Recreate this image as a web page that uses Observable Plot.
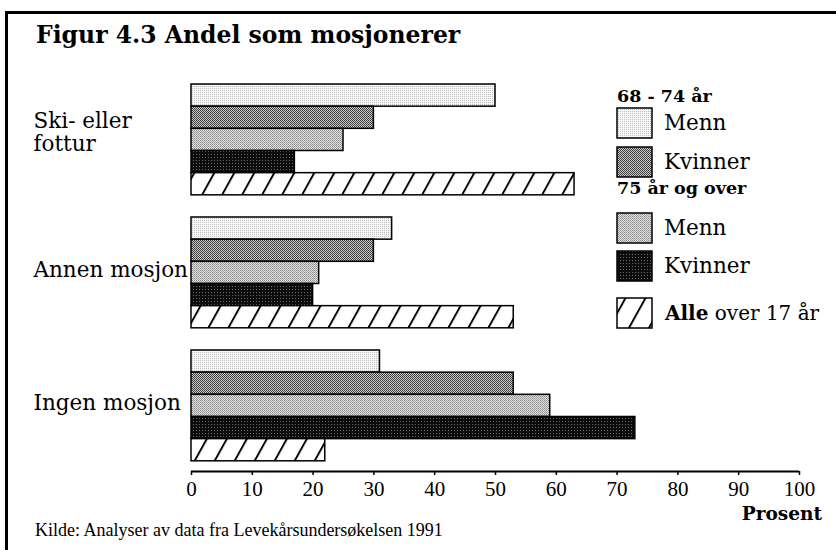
<!DOCTYPE html>
<html>
<head>
<meta charset="utf-8">
<script src="https://cdn.jsdelivr.net/npm/d3@7"></script>
<script src="https://cdn.jsdelivr.net/npm/@observablehq/plot@0.6"></script>
<style>
  html, body { margin: 0; padding: 0; background: #fff; }
  #wrap { position: relative; width: 836px; height: 550px; overflow: hidden; background: #fff; font-family: "DejaVu Serif", serif; color: #000; }
  #frame { position: absolute; left: 5px; top: 11px; right: -10px; bottom: -10px; border-top: 3px solid #000; border-left: 3px solid #000; }
  #title { position: absolute; left: 36px; top: 22px; font: bold 23.5px/1.164 "DejaVu Serif", serif; white-space: nowrap; }
  #chart { position: absolute; left: 0; top: 0; }
  .lg { position: absolute; white-space: nowrap; }
  .lg-head { font: bold 17.5px/1 "DejaVu Serif", serif; left: 617px; }
  .lg-item { left: 616px; display: flex; align-items: center; }
  .lg-item svg { display: block; }
  .lg-item span { font: 21.5px/1 "DejaVu Serif", serif; margin-left: 11px; }
  .lg-item span.small { font-size: 20px; margin-left: 12px; }
  #prosent { position: absolute; right: 14px; top: 505px; font: bold 18.5px/1 "DejaVu Serif", serif; }
  #caption { position: absolute; left: 35px; top: 521px; font: 18px/1 "Liberation Serif", serif; white-space: nowrap; }
</style>
</head>
<body>
<svg width="0" height="0" style="position:absolute">
  <defs>
    <pattern id="p-m68" width="2" height="2" patternUnits="userSpaceOnUse">
      <rect width="2" height="2" fill="#f8f8f8"/>
      <rect x="0" y="0" width="1" height="1" fill="#bdbdbd"/>
    </pattern>
    <pattern id="p-k68" width="2" height="2" patternUnits="userSpaceOnUse">
      <rect width="2" height="2" fill="#cccccc"/>
      <rect x="0" y="0" width="1" height="1" fill="#363636"/>
      <rect x="1" y="1" width="1" height="1" fill="#444444"/>
    </pattern>
    <pattern id="p-m75" width="2" height="2" patternUnits="userSpaceOnUse">
      <rect width="2" height="2" fill="#e2e2e2"/>
      <rect x="0" y="0" width="1" height="1" fill="#8a8a8a"/>
      <rect x="1" y="1" width="1" height="1" fill="#a0a0a0"/>
    </pattern>
    <pattern id="p-k75" width="3" height="3" patternUnits="userSpaceOnUse">
      <rect width="3" height="3" fill="#0c0c0c"/>
      <rect x="1" y="1" width="1" height="1" fill="#6a6a6a"/>
    </pattern>
    <pattern id="p-alle" width="20" height="20" patternUnits="userSpaceOnUse" patternTransform="skewX(-29)">
      <rect width="20" height="20" fill="#fff"/>
      <rect x="9" y="0" width="2.2" height="20" fill="#000"/>
    </pattern>
  </defs>
</svg>
<div id="wrap">
  <div id="frame"></div>
  <div id="title">Figur 4.3 Andel som mosjonerer</div>
  <div id="chart"></div>
  <div id="legend"></div>
  <div id="prosent">Prosent</div>
  <div id="caption">Kilde: Analyser av data fra Levekårsundersøkelsen 1991</div>
</div>
<script>
// ---- data ----
const groups = ["Ski- eller fottur", "Annen mosjon", "Ingen mosjon"];
const groupLabels = ["Ski- eller\nfottur", "Annen mosjon", "Ingen mosjon"];
const seriesKeys = ["Menn 68-74", "Kvinner 68-74", "Menn 75+", "Kvinner 75+", "Alle over 17"];
const menn6874 = [50, 33, 31];
const kvinner6874 = [30, 30, 53];
const menn75 = [25, 21, 59];
const kvinner75 = [17, 20, 73];
const alleOver17 = [63, 53, 22];
const xTicks = [0, 10, 20, 30, 40, 50, 60, 70, 80, 90, 100];
const legendHeads = ["68 - 74 år", "75 år og over"];
const legendLabels = ["Menn", "Kvinner", "Menn", "Kvinner"];

const patterns = ["url(#p-m68)", "url(#p-k68)", "url(#p-m75)", "url(#p-k75)", "url(#p-alle)"];
const seriesValues = [menn6874, kvinner6874, menn75, kvinner75, alleOver17];

// Each group occupies 5 bar slots plus one slot of gap
const slotsPerGroup = seriesKeys.length + 1;
const rows = [];
groups.forEach((g, gi) => {
  seriesKeys.forEach((s, si) => {
    rows.push({group: g, series: s, value: seriesValues[si][gi], pos: gi * slotsPerGroup + si});
  });
});
const groupRows = groups.map((g, gi) => ({label: groupLabels[gi], center: gi * slotsPerGroup + seriesKeys.length / 2}));
const multiLine = groupRows.filter(d => d.label.includes("\n"));
const singleLine = groupRows.filter(d => !d.label.includes("\n"));
const yBottom = (groups.length - 1) * slotsPerGroup + seriesKeys.length + 0.46;

const labelOpts = {y: "center", text: "label", frameAnchor: "left", textAnchor: "start", dx: 33 - 191, fontSize: 21.5, lineHeight: 1.1, lineAnchor: "middle", fill: "#000"};

const chart = Plot.plot({
  width: 836,
  height: 550,
  marginTop: 84,
  marginBottom: 79,
  marginLeft: 191,
  marginRight: 37,
  style: {fontFamily: "'DejaVu Serif', serif", background: "transparent", color: "#000", overflow: "visible"},
  x: {domain: [0, 100], axis: null},
  y: {domain: [yBottom, 0], axis: null},
  color: {type: "ordinal", domain: seriesKeys, range: patterns},
  marks: [
    Plot.rectX(rows, {x1: 0, x2: "value", y1: "pos", y2: d => d.pos + 1, fill: "series", stroke: "#000", strokeWidth: 1.5}),
    Plot.ruleY([yBottom], {stroke: "#000", strokeWidth: 2}),
    Plot.axisX({ticks: xTicks, tickSize: 4, tickPadding: 6, fontSize: 21, fontFamily: "'Liberation Serif', serif", strokeWidth: 1.5, label: null}),
    Plot.text(multiLine, {...labelOpts, dy: -8}),
    Plot.text(singleLine, {...labelOpts, dy: -3})
  ]
});
document.getElementById("chart").appendChild(chart);

// ---- legend ----
const legend = document.getElementById("legend");
function head(text, top) {
  const d = document.createElement("div");
  d.className = "lg lg-head";
  d.style.top = top + "px";
  d.textContent = text;
  legend.appendChild(d);
}
function item(fill, html, top, cls) {
  const d = document.createElement("div");
  d.className = "lg lg-item";
  d.style.top = top + "px";
  d.innerHTML = `<svg width="37" height="32"><rect x="1" y="1" width="35" height="30" fill="${fill}" stroke="#000" stroke-width="1.5"/></svg><span class="${cls || ""}">${html}</span>`;
  legend.appendChild(d);
}
head(legendHeads[0], 88);
item(patterns[0], legendLabels[0], 107);
item(patterns[1], legendLabels[1], 146);
head(legendHeads[1], 180);
item(patterns[2], legendLabels[2], 212);
item(patterns[3], legendLabels[3], 250);
item(patterns[4], "<b>Alle</b> over 17 år", 297, "small");
</script>
</body>
</html>
